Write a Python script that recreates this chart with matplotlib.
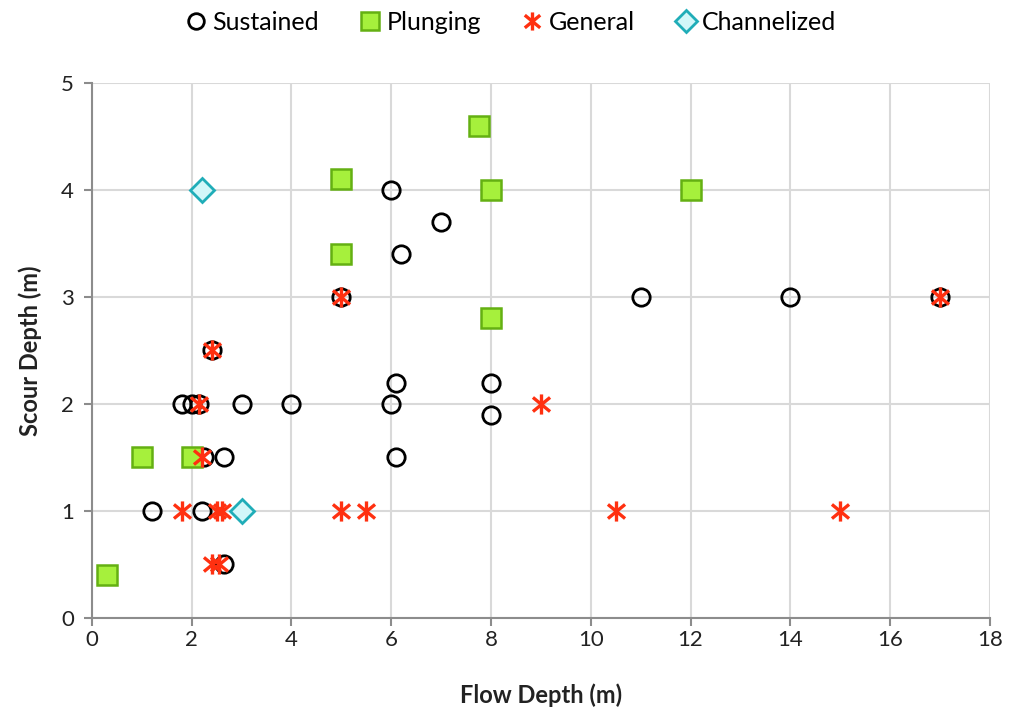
import numpy as np
import matplotlib.pyplot as plt
from matplotlib.path import Path

plt.rcParams['font.family'] = ['Lato', 'DejaVu Sans']

# Flow depth (x) and scour depth (y) for each failure type
sustained_x = [6.0, 7.0, 6.2, 5.0, 11.0, 14.0, 17.0, 2.4, 1.8, 2.0, 2.15, 3.0, 4.0, 6.0,
               6.1, 8.0, 8.0, 2.25, 2.65, 6.1, 1.2, 2.2, 2.65]
sustained_y = [4.0, 3.7, 3.4, 3.0, 3.0, 3.0, 3.0, 2.5, 2.0, 2.0, 2.0, 2.0, 2.0, 2.0,
               2.2, 2.2, 1.9, 1.5, 1.5, 1.5, 1.0, 1.0, 0.5]

plunging_x = [7.75, 5.0, 8.0, 12.0, 5.0, 8.0, 1.0, 2.0, 0.3]
plunging_y = [4.6, 4.1, 4.0, 4.0, 3.4, 2.8, 1.5, 1.5, 0.4]

general_x = [17.0, 5.0, 2.4, 2.15, 9.0, 2.2, 1.8, 2.5, 2.6, 5.0, 5.5, 10.5, 15.0, 2.4, 2.55]
general_y = [3.0, 3.0, 2.5, 2.0, 2.0, 1.5, 1.0, 1.0, 1.0, 1.0, 1.0, 1.0, 1.0, 0.5, 0.5]

channelized_x = [2.2, 3.0]
channelized_y = [4.0, 1.0]

# Excel-style star marker: an X with a vertical bar through it
star = Path([(0, -1), (0, 1), (-0.85, -0.7), (0.85, 0.7), (-0.85, 0.7), (0.85, -0.7)],
            [Path.MOVETO, Path.LINETO, Path.MOVETO, Path.LINETO, Path.MOVETO, Path.LINETO])

fig = plt.figure(figsize=(10.1, 7.15), dpi=100)
ax = fig.add_axes([0.091, 0.1357, 0.889, 0.7483])

ax.plot(sustained_x, sustained_y, 'o', ms=12.5, mfc='none', mec='black', mew=2,
        label='Sustained', zorder=3)
ax.plot(plunging_x, plunging_y, 's', ms=15, mfc='#a6f03c', mec='#64b012', mew=1.8,
        label='Plunging', zorder=4)
ax.plot(general_x, general_y, ls='none', marker=star, ms=14.5, mfc='none', mec='#ff3010',
        mew=2.4, label='General', zorder=5)
ax.plot(channelized_x, channelized_y, 'D', ms=12, mfc='#d2f7f9', mec='#20adb8', mew=2,
        label='Channelized', zorder=6)

ax.set_xlim(0, 18)
ax.set_ylim(0, 5)
ax.set_xticks(np.arange(0, 19, 2))
ax.set_yticks(np.arange(0, 6, 1))
ax.grid(True, color='#d9d9d9', lw=1.5)
ax.set_axisbelow(True)
for s in ['top', 'right']:
    ax.spines[s].set_visible(False)
for s in ['left', 'bottom']:
    ax.spines[s].set_color('#8c8c8c')
    ax.spines[s].set_linewidth(1.5)
ax.tick_params(axis='both', labelsize=16, color='#8c8c8c', width=1.5, length=6,
               labelcolor='#222222')
ax.tick_params(axis='x', pad=3)
ax.tick_params(axis='y', pad=7)

ax.set_xlabel('Flow Depth (m)', fontsize=17, fontweight='bold', color='#222222', labelpad=24)
ax.set_ylabel('Scour Depth (m)', fontsize=17, fontweight='bold', color='#222222', labelpad=14)

ax.legend(loc='lower center', bbox_to_anchor=(0.465, 1.05), ncol=4, frameon=False,
          fontsize=18, handletextpad=0.1, columnspacing=1.5, handlelength=1.1,
          markerscale=0.9)

fig.savefig('out.png', dpi=100)
